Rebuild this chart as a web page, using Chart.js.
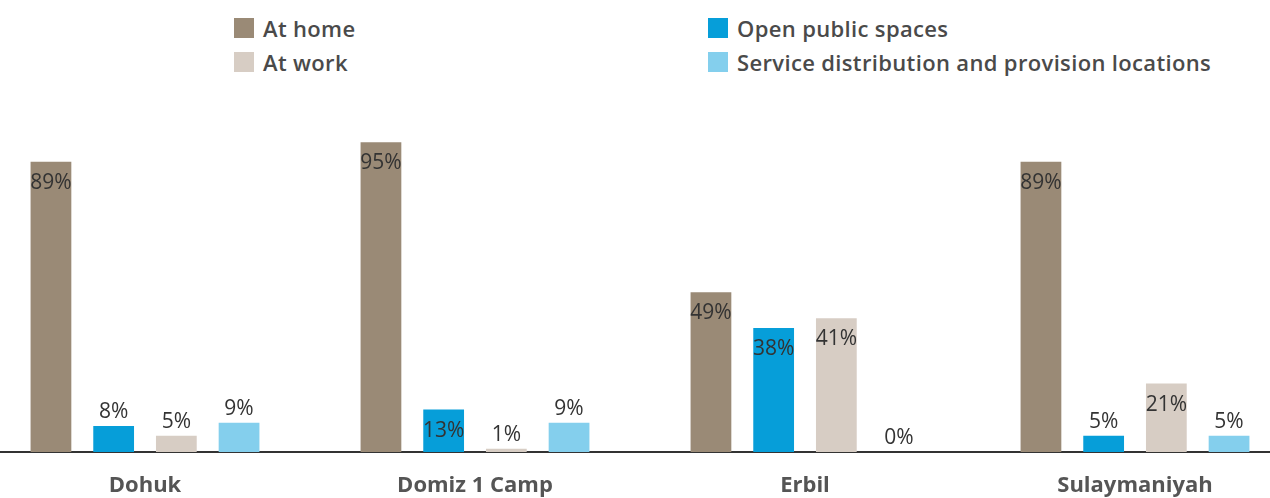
<!DOCTYPE html>
<html>
<head>
<meta charset="utf-8">
<script src="https://cdn.jsdelivr.net/npm/chart.js@4"></script>
<style>
  html, body { margin: 0; padding: 0; background: #fff; overflow: hidden; }
  body { width: 1270px; height: 498px; position: relative; font-family: "Open Sans", sans-serif; }
  #legend {
    position: absolute; left: 234px; top: 11px;
    display: grid; grid-template-columns: 474px auto; grid-auto-rows: 34px;
  }
  .item { display: flex; align-items: center; font-size: 22px; font-weight: 600; letter-spacing: 0.35px; color: #4a4a4a; white-space: nowrap; }
  .box { width: 20px; height: 20px; margin-right: 9px; flex: none; }
  #wrap { position: absolute; left: -30px; top: 0; width: 1340px; height: 498px; }
</style>
</head>
<body>
<div id="legend"></div>
<div id="wrap"><canvas id="chart"></canvas></div>
<script>
const places = ['Dohuk', 'Domiz 1 Camp', 'Erbil', 'Sulaymaniyah'];
const seriesNames = ['At home', 'Open public spaces', 'At work', 'Service distribution and provision locations'];
const atHome = [89, 95, 49, 89];
const openPublic = [8, 13, 38, 5];
const atWork = [5, 1, 41, 21];
const serviceLocations = [9, 9, 0, 5];
const colours = ['#9a8a76', '#069ed9', '#d7cdc4', '#84cfed'];

const values = [atHome, openPublic, atWork, serviceLocations];

// legend, two columns
const legend = document.getElementById('legend');
seriesNames.forEach((name, i) => {
  const it = document.createElement('div');
  it.className = 'item';
  it.innerHTML = '<span class="box" style="background:' + colours[i] + '"></span>' + name;
  legend.appendChild(it);
});

// percent labels: inside the bar top when tall, above it when short
const barLabels = {
  id: 'barLabels',
  afterDatasetsDraw(chart) {
    const ctx = chart.ctx;
    ctx.save();
    ctx.font = '21px "Open Sans"';
    ctx.fillStyle = '#333';
    ctx.textAlign = 'center';
    ctx.textBaseline = 'middle';
    chart.data.datasets.forEach((ds, i) => {
      chart.getDatasetMeta(i).data.forEach((bar, j) => {
        const v = ds.data[j];
        const y = v >= 10 ? bar.y + 21 : bar.y - 14;
        ctx.fillText(v + '%', bar.x, y);
      });
    });
    ctx.restore();
  }
};

new Chart(document.getElementById('chart'), {
  type: 'bar',
  data: {
    labels: places,
    datasets: seriesNames.map((name, i) => ({
      label: name,
      data: values[i],
      backgroundColor: colours[i],
      borderWidth: 0,
      barPercentage: 0.65,
      categoryPercentage: 0.76
    }))
  },
  options: {
    responsive: true,
    maintainAspectRatio: false,
    animation: false,
    layout: { padding: { top: 126, left: 10, right: 10, bottom: 0 } },
    plugins: { legend: { display: false }, tooltip: { enabled: false } },
    scales: {
      y: { display: false, min: 0, max: 100 },
      x: {
        grid: { display: false, drawTicks: false },
        border: { display: true, color: '#333', width: 2 },
        ticks: {
          padding: 21,
          color: '#555',
          font: { family: 'Open Sans', size: 22, weight: 'bold' }
        },
        afterFit(scale) { scale.height = 46; }
      }
    }
  },
  plugins: [barLabels]
});
</script>
</body>
</html>
